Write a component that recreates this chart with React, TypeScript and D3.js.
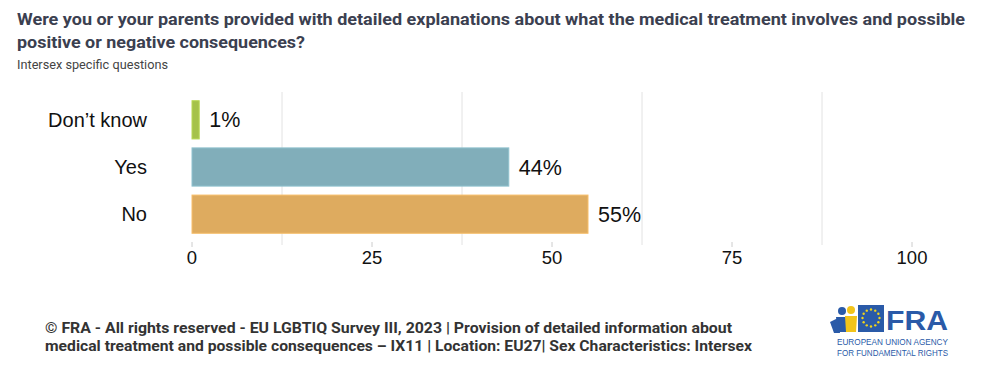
import React from "react";
import * as d3 from "d3";

const categories = ["Don\u2019t know", "Yes", "No"];
const values = [1, 44, 55];
const colors = ["#a5c24a", "#81aeba", "#deab5f"];
const tickValues = [0, 25, 50, 75, 100];
const gridValues = [12.5, 37.5, 62.5, 87.5];

const title1 = "Were you or your parents provided with detailed explanations about what the medical treatment involves and possible";
const title2 = "positive or negative consequences?";
const subtitle = "Intersex specific questions";
const foot1 = "\u00a9 FRA - All rights reserved - EU LGBTIQ Survey III, 2023 | Provision of detailed information about";
const foot2 = "medical treatment and possible consequences \u2013 IX11 | Location: EU27| Sex Characteristics: Intersex";

export default function App() {
  const W = 991, H = 378;
  const x = d3.scaleLinear().domain([0, 100]).range([192, 912]);
  const y = d3.scaleBand().domain(categories).range([96, 238]).paddingInner(0.19).paddingOuter(0.1);
  const stars = d3.range(12).map((i) => {
    const a = (i / 12) * Math.PI * 2;
    return [870 + Math.cos(a) * 8.5, 318 + Math.sin(a) * 8.5];
  });
  return (
    <svg width={W} height={H} style={{ position: "absolute", left: 0, top: 0, background: "#fff" }}>
      <text x={17} y={25} fontFamily="Roboto" fontWeight="bold" fontSize={17} fill="#3b4050" textLength={948} lengthAdjust="spacingAndGlyphs">{title1}</text>
      <text x={17} y={48} fontFamily="Roboto" fontWeight="bold" fontSize={17} fill="#3b4050" textLength={288} lengthAdjust="spacingAndGlyphs">{title2}</text>
      <text x={17} y={69} fontFamily="Roboto" fontSize={12} fill="#444" textLength={151} lengthAdjust="spacingAndGlyphs">{subtitle}</text>

      {gridValues.map((g) => (
        <line key={g} x1={x(g)} x2={x(g)} y1={92} y2={245} stroke="#e2e2e2" strokeWidth={1} />
      ))}
      {tickValues.map((t) => (
        <g key={t}>
          <line x1={x(t)} x2={x(t)} y1={242} y2={247} stroke="#ccc" />
          <text x={x(t)} y={264} textAnchor="middle" fontFamily="Arial" fontSize={18.5} fill="#111">{t}</text>
        </g>
      ))}
      {categories.map((c, i) => (
        <g key={c}>
          <rect x={x(0)} y={y(c)!} width={x(values[i]) - x(0)} height={y.bandwidth()} fill={colors[i]} stroke={d3.color(colors[i])!.brighter(0.3).toString()} strokeWidth={1} />
          <text x={147} y={y(c)! + y.bandwidth() / 2 + 7} textAnchor="end" fontFamily="Arial" fontSize={20} fill="#111">{c}</text>
          <text x={x(values[i]) + 10} y={y(c)! + y.bandwidth() / 2 + 7.5} fontFamily="Arial" fontSize={21.5} fill="#111">{values[i]}%</text>
        </g>
      ))}

      <text x={45} y={333} fontFamily="Roboto" fontWeight="bold" fontSize={14} fill="#333" textLength={687} lengthAdjust="spacingAndGlyphs">{foot1}</text>
      <text x={45} y={351} fontFamily="Roboto" fontWeight="bold" fontSize={14} fill="#333" textLength={707} lengthAdjust="spacingAndGlyphs">{foot2}</text>

      {/* logo */}
      <g>
        <circle cx={842} cy={311} r={4} fill="#2a5aa8" />
        <path d="M836,317 L848,317 L847,332 L838,332 Z" fill="#2a5aa8" />
        <path d="M830,322 L838,318 L840,333 L834,333 Z" fill="#2a5aa8" />
        <circle cx={851} cy={310} r={4} fill="#f2c41a" />
        <path d="M845,316 L857,316 L856,332 L846,332 Z" fill="#f2c41a" />
        <rect x={858} y={305} width={26} height={27} fill="#2a5aa8" />
        {stars.map(([sx, sy], i) => (
          <circle key={i} cx={sx + 1} cy={sy} r={1.2} fill="#f2d41a" />
        ))}
        <text x={886} y={330} fontFamily="Arial" fontWeight="bold" fontSize={27} fill="#2a5aa8" textLength={62} lengthAdjust="spacingAndGlyphs">FRA</text>
        <text x={837} y={345} fontFamily="Arial" fontSize={8.3} fill="#2a5aa8" textLength={111} lengthAdjust="spacingAndGlyphs">EUROPEAN UNION AGENCY</text>
        <text x={837} y={355.5} fontFamily="Arial" fontSize={8.3} fill="#2a5aa8" textLength={111} lengthAdjust="spacingAndGlyphs">FOR FUNDAMENTAL RIGHTS</text>
      </g>
    </svg>
  );
}
